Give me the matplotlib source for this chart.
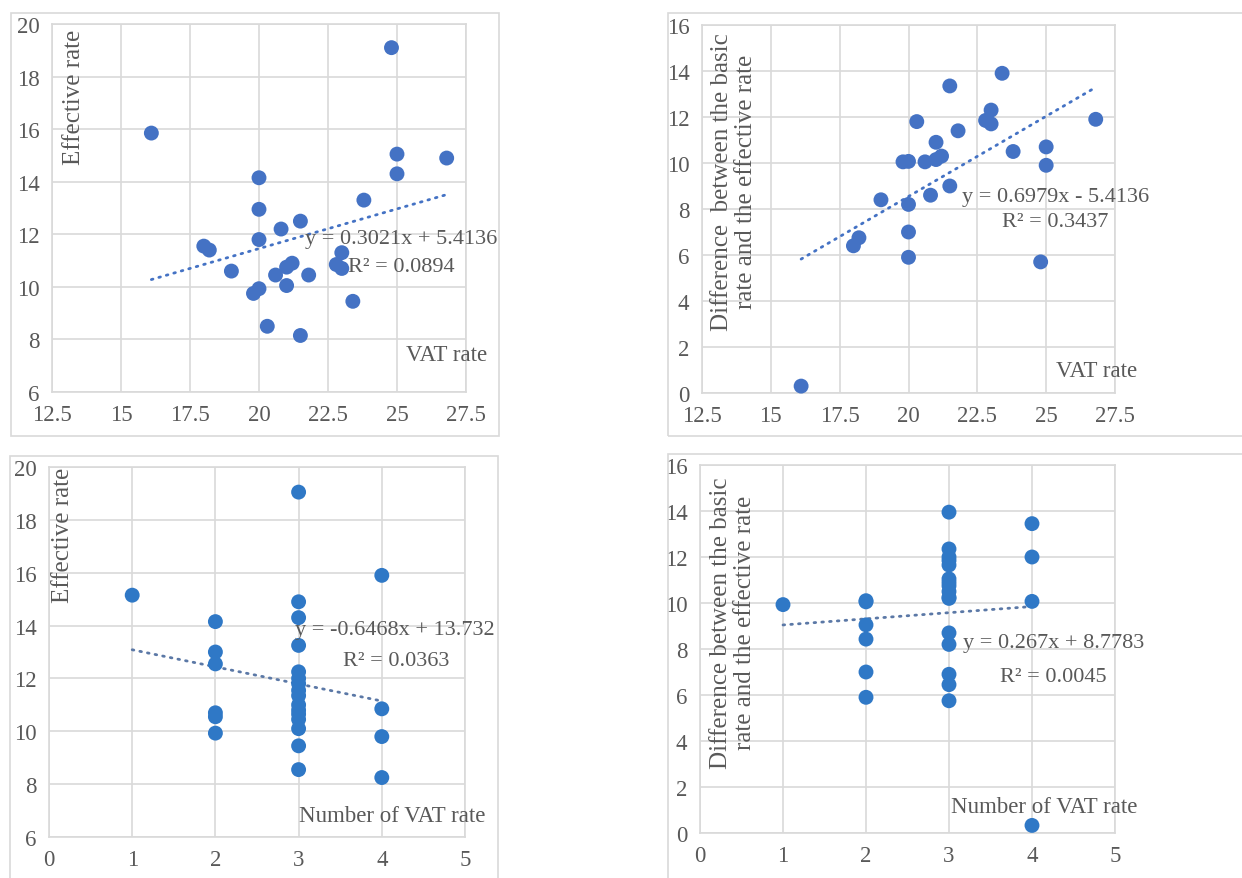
import matplotlib.pyplot as plt
from matplotlib.patches import Rectangle

plt.rcParams['font.family'] = ['Liberation Serif', 'DejaVu Serif']

# VAT rate vs effective rate (top row)
vat_rate = [16.1, 24.8, 25.0, 25.0, 26.8, 20.0, 20.0, 20.0, 18.0, 18.2, 19.0, 19.8, 20.0, 20.3,
            20.8, 20.6, 21.0, 21.2, 21.0, 21.5, 21.5, 21.8, 22.8, 23.0, 23.0, 23.4, 23.8]
effective_rate = [15.85, 19.1, 15.05, 14.3, 14.9, 14.15, 12.95, 11.8, 11.55, 11.4, 10.6, 9.75, 9.93, 8.5,
                  12.2, 10.45, 10.75, 10.9, 10.05, 12.5, 8.15, 10.45, 10.85, 10.7, 11.3, 9.45, 13.3]
rate_difference = [0.3, 5.7, 9.9, 10.7, 11.9, 5.9, 7.0, 8.2, 6.4, 6.75, 8.4, 10.05, 10.07, 11.8,
                   8.6, 10.05, 10.15, 10.3, 10.9, 9.0, 13.35, 11.4, 11.85, 12.3, 11.7, 13.9, 10.5]

# number of VAT rates (bottom row)
n_rates_eff = [1, 2, 2, 2, 2, 2, 2, 3, 3, 3, 3, 3, 3, 3, 3, 3, 3, 3, 3, 3, 3, 3, 3, 4, 4, 4, 4]
eff_by_n = [15.15, 14.15, 13.0, 12.55, 10.7, 10.55, 9.93, 19.05, 14.9, 14.3, 13.25, 12.25, 12.0, 11.8,
            11.55, 11.35, 11.0, 10.8, 10.65, 10.45, 10.1, 9.45, 8.55, 15.9, 10.85, 9.8, 8.25]
n_rates_diff = [1, 2, 2, 2, 2, 2, 2, 3, 3, 3, 3, 3, 3, 3, 3, 3, 3, 3, 3, 3, 3, 3, 3, 4, 4, 4, 4]
diff_by_n = [9.93, 10.1, 10.05, 9.05, 8.43, 7.0, 5.9, 13.95, 12.35, 12.0, 11.85, 11.65, 11.05, 10.9,
             10.75, 10.5, 10.25, 10.2, 8.7, 8.2, 6.9, 6.45, 5.75, 13.45, 12.0, 10.07, 0.33]

# trend lines (slope, intercept, x range) as printed on the chart
trends = [(0.3021, 5.4136, 16.1, 26.8), (0.6979, -5.4136, 16.1, 26.8),
          (-0.6468, 13.732, 1, 4), (0.267, 8.7783, 1, 4)]
eq_labels = ["y = 0.3021x + 5.4136", "y = 0.6979x - 5.4136", "y = -0.6468x + 13.732", "y = 0.267x + 8.7783"]
r2_labels = ["R² = 0.0894", "R² = 0.3437", "R² = 0.0363", "R² = 0.0045"]
x_titles = ["VAT rate", "VAT rate", "Number of VAT rate", "Number of VAT rate"]
y_titles = ["Effective rate", "Difference  between the basic\nrate and the effective rate",
            "Effective rate", "Difference between the basic\nrate and the effective rate"]

x_ticks_top = [12.5, 15, 17.5, 20, 22.5, 25, 27.5]
x_tick_labels_top = ["12.5", "15", "17.5", "20", "22.5", "25", "27.5"]
x_ticks_bottom = [0, 1, 2, 3, 4, 5]

W, H = 1242, 879
fig = plt.figure(figsize=(W / 100, H / 100), dpi=100)

def frac(l, t, r, b):
    return [l / W, 1 - b / H, (r - l) / W, (b - t) / H]

# chart-area frames
for (l, t, r, b) in [(11, 14, 499, 437), (668, 14, 1260, 437), (10, 457, 498, 890), (668, 455, 1260, 890)]:
    fig.patches.append(Rectangle((l / W, 1 - b / H), (r - l) / W, (b - t) / H, transform=fig.transFigure,
                                 fill=False, edgecolor='#d9d9d9', lw=1.2, clip_on=False))

axes = [fig.add_axes(frac(52, 25, 466, 393)), fig.add_axes(frac(702, 26, 1115, 394)),
        fig.add_axes(frac(49, 468, 465, 838)), fig.add_axes(frac(700, 466, 1115, 834))]

grey = '#595959'
grid_c = '#d9d9d9'
series = [(vat_rate, effective_rate, '#4472C4', '#4472C4'),
          (vat_rate, rate_difference, '#4472C4', '#4472C4'),
          (n_rates_eff, eff_by_n, '#2F78C6', '#5b78a6'),
          (n_rates_diff, diff_by_n, '#2F78C6', '#5b78a6')]

# text positions in axes fractions
eq_pos = [(0.843, 0.418), (0.855, 0.535), (0.832, 0.562), (0.853, 0.519)]
r2_pos = [(0.844, 0.342), (0.855, 0.467), (0.834, 0.478), (0.851, 0.424)]
xt_pos = [(0.954, 0.103), (0.955, 0.06), (0.825, 0.059), (0.829, 0.073)]
yt_pos = [(0.053, 0.803), (0.0775, 0.576), (0.034, 0.819), (0.0795, 0.573)]

for i, ax in enumerate(axes):
    xs, ys, mc, lc = series[i]
    slope, icpt, x0, x1 = trends[i]
    ax.plot([x0, x1], [slope * x0 + icpt, slope * x1 + icpt], color=lc, lw=2.0,
            linestyle=(0, (0.6, 2.2)), dash_capstyle='round', zorder=2)
    ax.scatter(xs, ys, s=115, color=mc, edgecolors='none', zorder=3, clip_on=False)

    if i < 2:
        ax.set_xlim(12.5, 27.5)
        ax.set_xticks(x_ticks_top)
        ax.set_xticklabels(x_tick_labels_top)
    else:
        ax.set_xlim(0, 5)
        ax.set_xticks(x_ticks_bottom)
    if i % 2 == 0:
        ax.set_ylim(6, 20)
        ax.set_yticks(range(6, 21, 2))
    else:
        ax.set_ylim(0, 16)
        ax.set_yticks(range(0, 17, 2))

    ax.grid(True, color=grid_c, lw=1.2, zorder=0)
    ax.set_axisbelow(True)
    for sp in ax.spines.values():
        sp.set_color(grid_c)
        sp.set_linewidth(1.2)
    ax.tick_params(length=0, labelsize=16.5, labelcolor=grey, pad=9)

    ax.text(*eq_pos[i], eq_labels[i], transform=ax.transAxes, ha='center', va='center',
            fontsize=16, color=grey)
    ax.text(*r2_pos[i], r2_labels[i], transform=ax.transAxes, ha='center', va='center',
            fontsize=16, color=grey)
    ax.text(*xt_pos[i], x_titles[i], transform=ax.transAxes, ha='center', va='center',
            fontsize=16.5, color=grey, clip_on=False)
    ax.text(*yt_pos[i], y_titles[i], transform=ax.transAxes, ha='center', va='center',
            rotation=90, fontsize=18, color=grey, linespacing=1.1, multialignment='center')

fig.savefig('out.png', dpi=100)
